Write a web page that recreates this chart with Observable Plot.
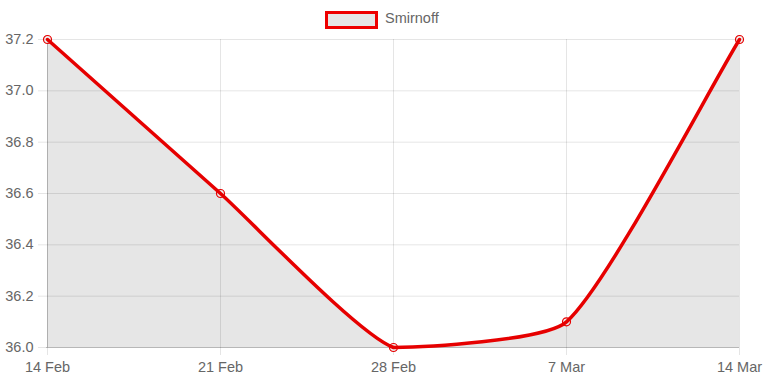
<!DOCTYPE html>
<html><head><meta charset="utf-8">
<script src="https://cdn.jsdelivr.net/npm/d3@7"></script>
<script src="https://cdn.jsdelivr.net/npm/@observablehq/plot@0.6"></script>
<style>
body{margin:0;background:#fff;font-family:"Liberation Sans",Arial,Helvetica,sans-serif;}
#legend{height:32px;position:relative;font-size:14.5px;color:#666;}
#legend .box{position:absolute;left:325px;top:11px;width:47px;height:12px;border:3px solid #e00;background:#e6e6e6;}
#legend span{position:absolute;left:385px;top:10px;}
</style></head>
<body>
<div id="legend"><div class="box"></div><span id="lname"></span></div>
<div id="chart"></div>
<script>
const labels = ["14 Feb","21 Feb","28 Feb","7 Mar","14 Mar"];
const values = [37.2, 36.6, 36.0, 36.1, 37.2];
const yTicks = [36.0, 36.2, 36.4, 36.6, 36.8, 37.0, 37.2];
const seriesName = "Smirnoff";
document.getElementById("lname").textContent = seriesName;

const W = 767, H = 351, mL = 46, mR = 28, mT = 7, mB = 36;
const data = labels.map((l,i)=>({label:l, value:values[i]}));
const red = "#e60000";
const tension = 0.18;

// Chart.js-style bezier spline with control points capped to the chart area
function chartjsCurve(context){ return new ChartJsSpline(context); }
class ChartJsSpline {
  constructor(ctx){ this._context = ctx; this._line = NaN; }
  areaStart(){ this._line = 0; }
  areaEnd(){ this._line = NaN; }
  lineStart(){ this._x = []; this._y = []; }
  point(x, y){ this._x.push(+x); this._y.push(+y); }
  lineEnd(){
    const X = this._x, Y = this._y, n = X.length, c = this._context, t = tension;
    const x0 = mL, x1 = W - mR, y0 = mT, y1 = H - mB;
    const cap = (v, lo, hi) => Math.max(Math.min(v, hi), lo);
    if (n) {
      if (this._line) c.lineTo(X[0], Y[0]); else c.moveTo(X[0], Y[0]);
      if (n === 2) c.lineTo(X[1], Y[1]);
      else if (n > 2) {
        const cp = [];
        for (let i = 0; i < n; i++) {
          const pi = i === 0 ? 0 : i - 1, ni = Math.min(i + 1, n - 1);
          const d01 = Math.hypot(X[i]-X[pi], Y[i]-Y[pi]);
          const d12 = Math.hypot(X[ni]-X[i], Y[ni]-Y[i]);
          let s01 = d01/(d01+d12), s12 = d12/(d01+d12);
          if (isNaN(s01)) s01 = 0; if (isNaN(s12)) s12 = 0;
          const fa = t*s01, fb = t*s12, dx = X[ni]-X[pi], dy = Y[ni]-Y[pi];
          cp.push({
            px: cap(X[i]-fa*dx, x0, x1), py: cap(Y[i]-fa*dy, y0, y1),
            nx: cap(X[i]+fb*dx, x0, x1), ny: cap(Y[i]+fb*dy, y0, y1)
          });
        }
        for (let i = 0; i < n - 1; i++)
          c.bezierCurveTo(cp[i].nx, cp[i].ny, cp[i+1].px, cp[i+1].py, X[i+1], Y[i+1]);
      }
    }
    if (this._line || (this._line !== 0 && n === 1)) c.closePath();
    this._line = 1 - this._line;
  }
}

const grid = {stroke: "#000", strokeOpacity: 0.1};
const chart = Plot.plot({
  width: W, height: H,
  marginLeft: mL, marginRight: mR, marginTop: mT, marginBottom: mB,
  style: {fontFamily: "'Liberation Sans', Arial, sans-serif", fontSize: "14.5px", color: "#666", background: "#fff"},
  x: {type: "point", domain: labels, padding: 0, label: null},
  y: {domain: [36.0, 37.2], ticks: yTicks, label: null},
  marks: [
    Plot.areaY(data, {x: "label", y1: 36.0, y2: "value", curve: chartjsCurve, fill: "#e6e6e6"}),
    Plot.gridY(yTicks, grid),
    Plot.gridX(labels, grid),
    Plot.ruleX([labels[0]], {stroke: "#000", strokeOpacity: 0.15}),
    Plot.ruleY([36.0], {stroke: "#000", strokeOpacity: 0.2}),
    Plot.axisY(yTicks, {tickSize: 8, tickPadding: 5, ...grid, tickFormat: d3.format(".1f"), fill: "#666", fontSize: 14.5}),
    Plot.axisX(labels, {tickSize: 8, tickPadding: 6, ...grid, fill: "#666", fontSize: 14.5}),
    Plot.dot(data, {x: "label", y: "value", r: 4, stroke: red, strokeWidth: 1.2, fill: "rgba(230,230,230,0.6)"}),
    Plot.lineY(data, {x: "label", y: "value", curve: chartjsCurve, stroke: red, strokeWidth: 3.5})
  ]
});
document.getElementById("chart").append(chart);
</script>
</body></html>
